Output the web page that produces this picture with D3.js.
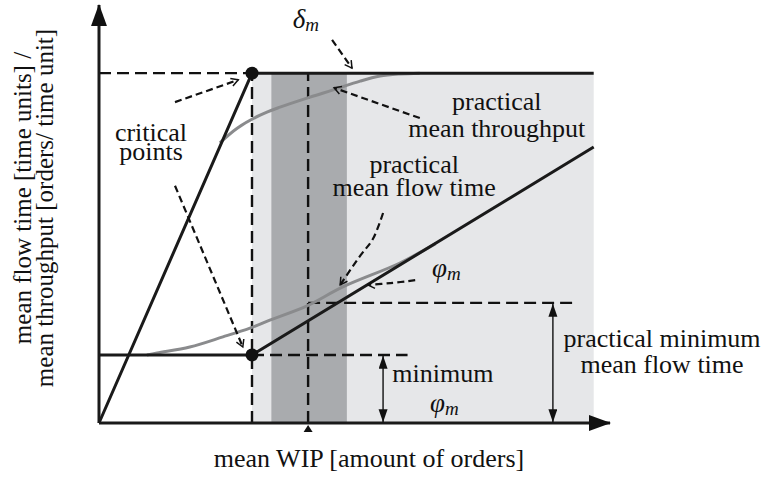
<!DOCTYPE html>
<html>
<head>
<meta charset="utf-8">
<script src="https://cdn.jsdelivr.net/npm/d3@7"></script>
<style>
body { margin: 0; background: #fff; }
</style>
</head>
<body>
<svg id="chart" width="766" height="484"></svg>
<script>
const width = 766;
const height = 484;
const serif = "Liberation Serif";

// model values: x = mean WIP, y = flow time / throughput (arbitrary units)
const criticalWip = 3.0;
const operatingWip = 4.1;
const bottleneckBand = [3.38, 4.86];
const practicalZone = [3.0, 9.7];
const maxThroughput = 8.33;
const minFlowTime = 1.62;
const practicalMinFlowTime = 2.86;
const flowLineEnd = [9.7, 6.57];
const minimumDashEnd = 6.05;
const practicalDashEnd = 9.29;
const rangeArrowXs = [5.57, 8.9];

// practical (gray) curves
const throughputCurve = [[2.37, 6.67], [2.71, 7.02], [3.16, 7.33], [3.55, 7.52], [4.14, 7.76],
    [4.59, 7.93], [5.12, 8.14], [5.51, 8.26], [5.90, 8.31], [6.29, 8.33]];
const flowCurve = [[0.94, 1.62], [1.14, 1.67], [1.78, 1.81], [2.43, 2.05], [2.96, 2.26],
    [3.35, 2.45], [4.08, 2.79], [4.78, 3.24], [5.90, 3.81], [6.6, 4.27]];

// dashed pointer arrows of the annotations
const pointers = [
    [[4.57, 9.12], [4.96, 8.45]],
    [[6.29, 7.26], [4.61, 7.98]],
    [[1.49, 7.64], [2.73, 8.17]],
    [[1.49, 5.65], [2.82, 1.81]],
    [[5.57, 5.0], [5.37, 4.38], [5.12, 3.98], [4.73, 3.29]],
    [[6.2, 3.40], [5.71, 3.33], [5.27, 3.29]]
];

// plain labels: text, x, y, anchor
const labels = [
    ["critical", 1.02, 6.71, "middle"],
    ["points", 1.02, 6.26, "middle"],
    ["practical", 7.80, 7.45, "middle"],
    ["mean throughput", 7.80, 6.81, "middle"],
    ["practical", 6.18, 5.95, "middle"],
    ["mean flow time", 6.18, 5.40, "middle"],
    ["practical minimum", 11.04, 1.81, "middle"],
    ["mean flow time", 11.04, 1.19, "middle"],
    ["minimum", 5.75, 0.98, "start"]
];
// symbol labels: greek letter, x, y
const symbols = [
    ["δ", 3.80, 9.40],
    ["φ", 6.53, 3.48],
    ["φ", 6.49, 0.26]
];

const x = d3.scaleLinear().domain([0, 10]).range([99, 609]);
const y = d3.scaleLinear().domain([0, 10]).range([423, 3]);

const svg = d3.select("#chart");
const defs = svg.append("defs");

defs.append("marker").attr("id", "axisHead")
    .attr("markerUnits", "userSpaceOnUse")
    .attr("markerWidth", 24).attr("markerHeight", 18)
    .attr("refX", 21).attr("refY", 8).attr("orient", "auto")
    .append("path").attr("d", "M0,0 L22,8 L0,16 Z").attr("fill", "#111");

defs.append("marker").attr("id", "rangeHead")
    .attr("markerUnits", "userSpaceOnUse")
    .attr("markerWidth", 14).attr("markerHeight", 10)
    .attr("refX", 13).attr("refY", 4.5).attr("orient", "auto-start-reverse")
    .append("path").attr("d", "M0,0 L13,4.5 L0,9 Z").attr("fill", "#111");

defs.append("marker").attr("id", "pointerHead")
    .attr("markerUnits", "userSpaceOnUse")
    .attr("markerWidth", 12).attr("markerHeight", 12)
    .attr("refX", 8).attr("refY", 5).attr("orient", "auto")
    .append("path").attr("d", "M1,1 L8,5 L1,9").attr("fill", "none")
    .attr("stroke", "#111").attr("stroke-width", 1.5);

// shaded zones
svg.append("rect")
    .attr("x", x(practicalZone[0])).attr("y", y(maxThroughput))
    .attr("width", x(practicalZone[1]) - x(practicalZone[0]))
    .attr("height", y(0) - y(maxThroughput))
    .attr("fill", "#e6e7e9");

svg.append("rect")
    .attr("x", x(bottleneckBand[0])).attr("y", y(maxThroughput))
    .attr("width", x(bottleneckBand[1]) - x(bottleneckBand[0]))
    .attr("height", y(0) - y(maxThroughput))
    .attr("fill", "#a9abae");

const line = d3.line().x(d => x(d[0])).y(d => y(d[1]));
const smooth = d3.line().x(d => x(d[0])).y(d => y(d[1])).curve(d3.curveCatmullRom);

// dashed guide lines
const guides = [
    [[0, maxThroughput], [criticalWip, maxThroughput]],
    [[criticalWip, 0], [criticalWip, maxThroughput]],
    [[operatingWip, 0], [operatingWip, maxThroughput]],
    [[criticalWip, minFlowTime], [minimumDashEnd, minFlowTime]],
    [[operatingWip, practicalMinFlowTime], [practicalDashEnd, practicalMinFlowTime]]
];
svg.selectAll(".guide").data(guides).enter().append("path")
    .attr("class", "guide")
    .attr("d", line)
    .attr("fill", "none").attr("stroke", "#111")
    .attr("stroke-width", 2.4).attr("stroke-dasharray", "12,6");

// practical curves
svg.selectAll(".practical").data([throughputCurve, flowCurve]).enter().append("path")
    .attr("class", "practical")
    .attr("d", smooth)
    .attr("fill", "none").attr("stroke", "#8a8b8d").attr("stroke-width", 3);

// ideal curves
const ideal = [
    [[0, 0], [criticalWip, maxThroughput], [practicalZone[1], maxThroughput]],
    [[0, minFlowTime], [criticalWip, minFlowTime], flowLineEnd]
];
svg.selectAll(".ideal").data(ideal).enter().append("path")
    .attr("class", "ideal")
    .attr("d", line)
    .attr("fill", "none").attr("stroke", "#1a1a1a").attr("stroke-width", 3)
    .attr("stroke-linejoin", "round");

// critical points
svg.selectAll(".critical").data([maxThroughput, minFlowTime]).enter().append("circle")
    .attr("class", "critical")
    .attr("cx", x(criticalWip)).attr("cy", d => y(d)).attr("r", 6.5)
    .attr("fill", "#111");

// axes
svg.append("path").attr("d", line([[0, 0], [0, 9.95]]))
    .attr("stroke", "#1a1a1a").attr("stroke-width", 3).attr("marker-end", "url(#axisHead)");
svg.append("path").attr("d", line([[0, 0], [10.02, 0]]))
    .attr("stroke", "#1a1a1a").attr("stroke-width", 3).attr("marker-end", "url(#axisHead)");

// operating point marker under the x axis
svg.append("path")
    .attr("d", `M${x(operatingWip)},${y(0) + 2} l-4.5,7 l9,0 Z`)
    .attr("fill", "#111");

// range arrows
svg.selectAll(".range").data([minFlowTime, practicalMinFlowTime]).enter().append("path")
    .attr("class", "range")
    .attr("d", (d, i) => line([[rangeArrowXs[i], 0.02], [rangeArrowXs[i], d - 0.02]]))
    .attr("stroke", "#111").attr("stroke-width", 1.4)
    .attr("marker-start", "url(#rangeHead)").attr("marker-end", "url(#rangeHead)");

// annotation pointers
svg.selectAll(".pointer").data(pointers).enter().append("path")
    .attr("class", "pointer")
    .attr("d", smooth)
    .attr("fill", "none").attr("stroke", "#111")
    .attr("stroke-width", 2.2).attr("stroke-dasharray", "7,4")
    .attr("marker-end", "url(#pointerHead)");

// labels
svg.selectAll(".label").data(labels).enter().append("text")
    .attr("class", "label")
    .attr("x", d => x(d[1])).attr("y", d => y(d[2]))
    .attr("text-anchor", d => d[3])
    .attr("font-family", serif).attr("font-size", 26).attr("fill", "#111")
    .text(d => d[0]);

const sym = svg.selectAll(".symbol").data(symbols).enter().append("text")
    .attr("class", "symbol")
    .attr("x", d => x(d[1])).attr("y", d => y(d[2]))
    .attr("font-family", serif).attr("font-size", 27).attr("fill", "#111")
    .attr("font-style", "italic");
sym.append("tspan").text(d => d[0]);
sym.append("tspan").attr("dy", 3).attr("font-size", 19).text("m");

// axis titles
svg.append("text")
    .attr("transform", "translate(31,198) rotate(-90)")
    .attr("text-anchor", "middle")
    .attr("font-family", serif).attr("font-size", 25).attr("fill", "#111")
    .text("mean flow time [time units] /");
svg.append("text")
    .attr("transform", "translate(53,208) rotate(-90)")
    .attr("text-anchor", "middle")
    .attr("font-family", serif).attr("font-size", 25).attr("fill", "#111")
    .text("mean throughput [orders/ time unit]");
svg.append("text")
    .attr("x", 369).attr("y", 467)
    .attr("text-anchor", "middle")
    .attr("font-family", serif).attr("font-size", 26).attr("fill", "#111")
    .text("mean WIP [amount of orders]");
</script>
</body>
</html>
